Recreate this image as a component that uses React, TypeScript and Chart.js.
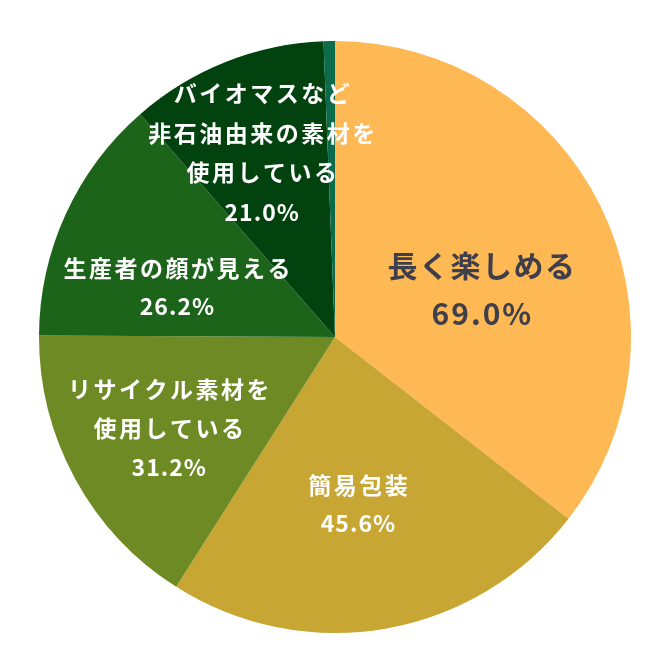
import { useEffect, useRef } from "react";
import { Chart, registerables } from "chart.js";

Chart.register(...registerables);

// 項目名（改行ごとに配列）
const categories: string[][] = [
  ["長く楽しめる"],
  ["簡易包装"],
  ["リサイクル素材を", "使用している"],
  ["生産者の顔が見える"],
  ["バイオマスなど", "非石油由来の素材を", "使用している"],
  ["その他"],
];
const values = [69.0, 45.6, 31.2, 26.2, 21.0, 1.2];
const colors = ["#FFB954", "#C8A633", "#6E8A24", "#1C6419", "#02420F", "#0B6B4B"];

// ラベルの見た目（最後のスライスはラベルなし）
const labelStyles = [
  { radius: 0.52, shift: 8, size: 30, textGap: 1.5, numGap: 2, lineHeight: 48, color: "#3F3F4C" },
  { radius: 0.57, shift: 2, size: 23, textGap: 2.5, numGap: 1, lineHeight: 38, color: "#FFFFFF" },
  { radius: 0.64, shift: 0, size: 23, textGap: 2.5, numGap: 1, lineHeight: 39, color: "#FFFFFF" },
  { radius: 0.56, shift: -7, size: 23, textGap: 2.5, numGap: 1, lineHeight: 38, color: "#FFFFFF" },
  { radius: 0.67, shift: 0, size: 23, textGap: 2.5, numGap: 1, lineHeight: 39.5, color: "#FFFFFF" },
  null,
];

const sliceLabels = {
  id: "sliceLabels",
  afterDatasetsDraw(chart: Chart) {
    const ctx = chart.ctx as any;
    const meta = chart.getDatasetMeta(0);
    meta.data.forEach((arc: any, i: number) => {
      const st = labelStyles[i];
      if (!st) return;
      const { x, y, startAngle, endAngle, outerRadius } = arc.getProps(
        ["x", "y", "startAngle", "endAngle", "outerRadius"],
        true
      );
      const mid = (startAngle + endAngle) / 2 + (st.shift * Math.PI) / 180;
      const r = outerRadius * st.radius;
      const cx = x + Math.cos(mid) * r;
      const cy = y + Math.sin(mid) * r;
      const lines = [...categories[i], values[i].toFixed(1) + "%"];
      ctx.save();
      ctx.fillStyle = st.color;
      ctx.font = `bold ${st.size}px "Noto Sans CJK JP", "Noto Sans", sans-serif`;
      ctx.textAlign = "center";
      ctx.textBaseline = "middle";
      const top = cy - ((lines.length - 1) * st.lineHeight) / 2;
      lines.forEach((line, k) => {
        const gap = k === lines.length - 1 ? st.numGap : st.textGap;
        ctx.letterSpacing = `${gap}px`;
        ctx.fillText(line, cx + gap / 2, top + k * st.lineHeight);
      });
      ctx.restore();
    });
  },
};

export default function App() {
  const chartRef = useRef<HTMLCanvasElement | null>(null);

  useEffect(() => {
    if (!chartRef.current) return;
    const myChart = new Chart(chartRef.current, {
      type: "pie",
      data: {
        labels: categories.map((c) => c.join("")),
        datasets: [
          {
            data: values,
            backgroundColor: colors,
            borderWidth: 0,
          },
        ],
      },
      options: {
        animation: false,
        responsive: true,
        maintainAspectRatio: false,
        layout: { padding: { left: 39, right: 33, top: 41, bottom: 31 } },
        plugins: {
          legend: { display: false },
          tooltip: { enabled: false },
        },
      },
      plugins: [sliceLabels],
    });
    return () => {
      myChart.destroy();
    };
  }, []);

  return (
    <div
      style={{
        position: "absolute",
        left: 0,
        top: 0,
        width: 664,
        height: 664,
        background: "#FFFFFF",
      }}
    >
      <canvas ref={chartRef} />
    </div>
  );
}
